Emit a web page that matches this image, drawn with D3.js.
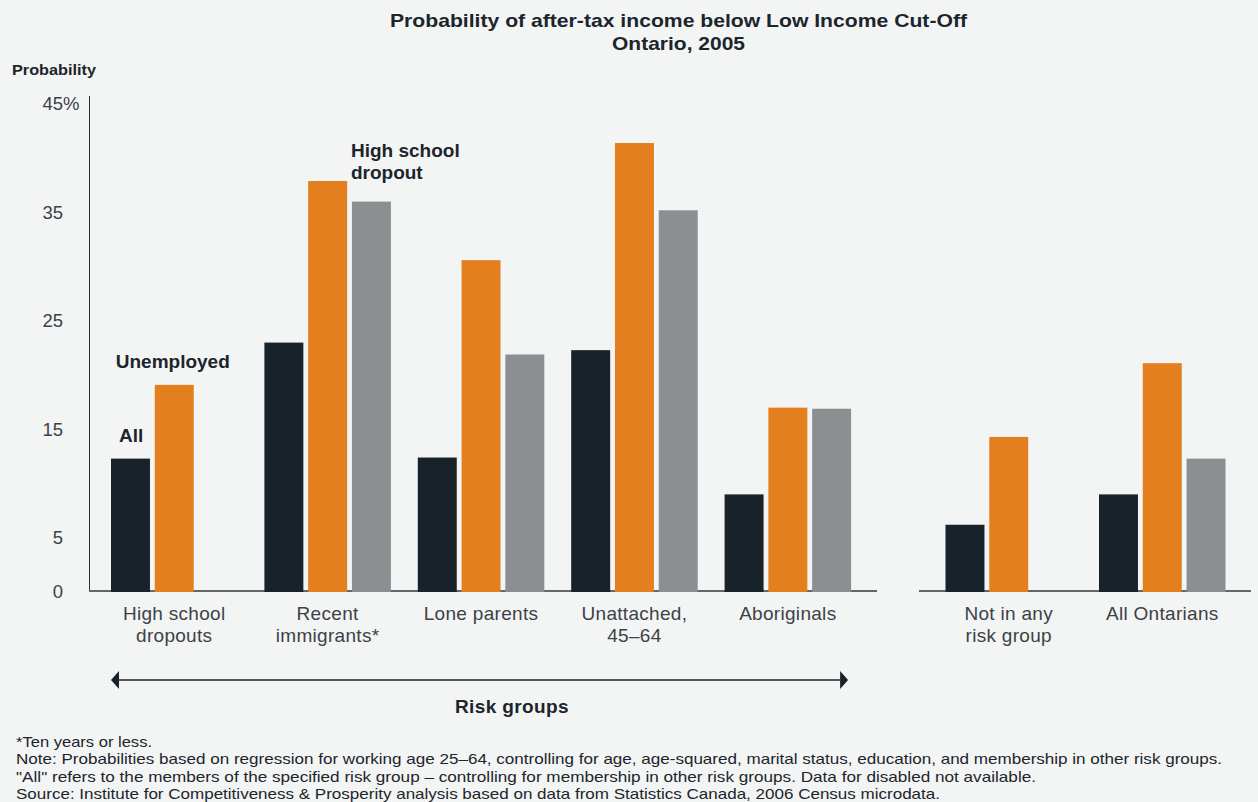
<!DOCTYPE html>
<html><head><meta charset="utf-8">
<script src="https://cdnjs.cloudflare.com/ajax/libs/d3/7.8.5/d3.min.js"></script>
<style>
body{margin:0;background:#f3f4f4;}
svg{display:block;font-family:"Liberation Sans",Arial,sans-serif;}
</style></head>
<body><svg id="c" width="1258" height="802"></svg>
<script>
const riskGroups = [["High school","dropouts"],["Recent","immigrants*"],["Lone parents"],["Unattached,","45–64"],["Aboriginals"]];
const otherGroups = [["Not in any","risk group"],["All Ontarians"]];
const seriesNames = ["All","Unemployed","High school dropout"];
const seriesColors = ["#17222b","#e37f1e","#8b8f92"];
// values per group: [All, Unemployed, High school dropout]
const allValues        = [12.3, 23.0, 12.4, 22.3, 9.0, 6.2, 9.0];
const unemployedValues = [19.1, 37.9, 30.6, 41.4, 17.0, 14.3, 21.1];
const dropoutValues    = [null, 36.0, 21.9, 35.2, 16.9, null, 12.3];
const yTicks = [0,5,15,25,35,45];
const footnotes = [
 "*Ten years or less.",
 "Note: Probabilities based on regression for working age 25–64, controlling for age, age-squared, marital status, education, and membership in other risk groups.",
 "\"All\" refers to the members of the specified risk group – controlling for membership in other risk groups. Data for disabled not available.",
 "Source: Institute for Competitiveness & Prosperity analysis based on data from Statistics Canada, 2006 Census microdata."
];
const footnoteWidths = [136, 1206, 1020, 924];

const svg = d3.select("#c");
const y = d3.scaleLinear().domain([0,45]).range([592,104]);
const xL = d3.scaleBand().domain(d3.range(5)).range([97.5,864.5]).paddingInner(0).paddingOuter(0);
const xR = d3.scaleBand().domain([5,6]).range([932,1239]);
const xIn = d3.scaleBand().domain(d3.range(3)).range([13.5,140]).paddingInner(0.11);
const gx = i => i<5 ? xL(i) : xR(i);

// title
svg.append("text").attr("x",678.5).attr("y",27).attr("text-anchor","middle")
  .attr("font-weight","bold").attr("font-size",19).attr("fill","#1c252c")
  .attr("textLength",577).attr("lengthAdjust","spacingAndGlyphs")
  .text("Probability of after-tax income below Low Income Cut-Off");
svg.append("text").attr("x",678.5).attr("y",50).attr("text-anchor","middle")
  .attr("font-weight","bold").attr("font-size",19).attr("fill","#1c252c")
  .attr("textLength",133).attr("lengthAdjust","spacingAndGlyphs")
  .text("Ontario, 2005");
svg.append("text").attr("x",12).attr("y",75).attr("font-weight","bold")
  .attr("font-size",15).attr("fill","#1c252c")
  .attr("textLength",84).attr("lengthAdjust","spacingAndGlyphs").text("Probability");

// y axis
const yAxis = d3.axisLeft(y).tickValues(yTicks).tickSize(0).tickPadding(26).tickFormat(d3.format("d"));
const ga = svg.append("g").attr("transform","translate(89,0)").call(yAxis);
ga.select(".domain").remove();
ga.selectAll("text").attr("font-size",18.5).attr("fill","#3c4247")
  .attr("font-family","Liberation Sans, Arial, sans-serif");
ga.selectAll(".tick").filter(d=>d===45).append("text")
  .attr("x",-26).attr("dy","0.32em").attr("text-anchor","start")
  .attr("font-size",18.5).attr("fill","#3c4247").text("%");
svg.append("line").attr("x1",89.5).attr("x2",89.5).attr("y1",96).attr("y2",592)
  .attr("stroke","#2b3035").attr("stroke-width",1);

// baselines
svg.append("line").attr("x1",89).attr("x2",877).attr("y1",591).attr("y2",591)
  .attr("stroke","#61686d").attr("stroke-width",2);
svg.append("line").attr("x1",919).attr("x2",1251).attr("y1",591).attr("y2",591)
  .attr("stroke","#61686d").attr("stroke-width",2);

// bars
const data = allValues.map((v,i)=>[v, unemployedValues[i], dropoutValues[i]]);
data.forEach((vals,i)=>{
  vals.forEach((v,s)=>{
    if(v==null) return;
    svg.append("rect").attr("x",gx(i)+xIn(s)).attr("width",xIn.bandwidth())
      .attr("y",y(v)).attr("height",y(0)-y(v)).attr("fill",seriesColors[s]);
  });
});

// category labels
const cats = riskGroups.concat(otherGroups);
cats.forEach((lines,i)=>{
  const cx = gx(i)+ (i<5? xL.bandwidth(): xR.bandwidth())/2;
  const t = svg.append("text").attr("x",cx).attr("y",620).attr("text-anchor","middle")
    .attr("font-size",19).attr("letter-spacing",0.3).attr("fill","#3c4247");
  lines.forEach((l,k)=>t.append("tspan").attr("x",cx).attr("dy",k?22:0).text(l));
});

// series annotations
const ann = {"font-weight":"bold","font-size":19,"fill":"#1c252c"};
function styl(sel){ Object.entries(ann).forEach(([k,v])=>sel.attr(k,v)); return sel; }
styl(svg.append("text").attr("x",gx(0)+xIn(0)+8).attr("y",y(allValues[0])-17)).text(seriesNames[0]);
styl(svg.append("text").attr("x",gx(0)+xIn(1)-39).attr("y",y(unemployedValues[0])-17)).text(seriesNames[1]);
const hs = styl(svg.append("text").attr("x",gx(1)+xIn(2)-1).attr("y",y(dropoutValues[1])-45));
hs.append("tspan").text("High school");
hs.append("tspan").attr("x",gx(1)+xIn(2)-1).attr("dy",22).text("dropout");

// arrow
const ax1 = gx(0)+xIn(0), ax2 = gx(4)+xIn(2)+xIn.bandwidth()-3;
svg.append("line").attr("x1",ax1+8).attr("x2",ax2-8).attr("y1",680).attr("y2",680)
  .attr("stroke","#1c252c").attr("stroke-width",1.5);
svg.append("path").attr("d",`M${ax1},680 L${ax1+8},671 L${ax1+8},689 Z`).attr("fill","#17222b");
svg.append("path").attr("d",`M${ax2},680 L${ax2-8},671 L${ax2-8},689 Z`).attr("fill","#17222b");
styl(svg.append("text").attr("x",512).attr("y",713).attr("text-anchor","middle")
  .attr("letter-spacing",0.4)).text("Risk groups");

// footnotes
footnotes.forEach((f,i)=>{
  svg.append("text").attr("x",16).attr("y",747+i*17.3).attr("font-size",14.5)
    .attr("textLength",footnoteWidths[i]).attr("lengthAdjust","spacingAndGlyphs")
    .attr("fill","#1c252c").text(f);
});
</script></body></html>
